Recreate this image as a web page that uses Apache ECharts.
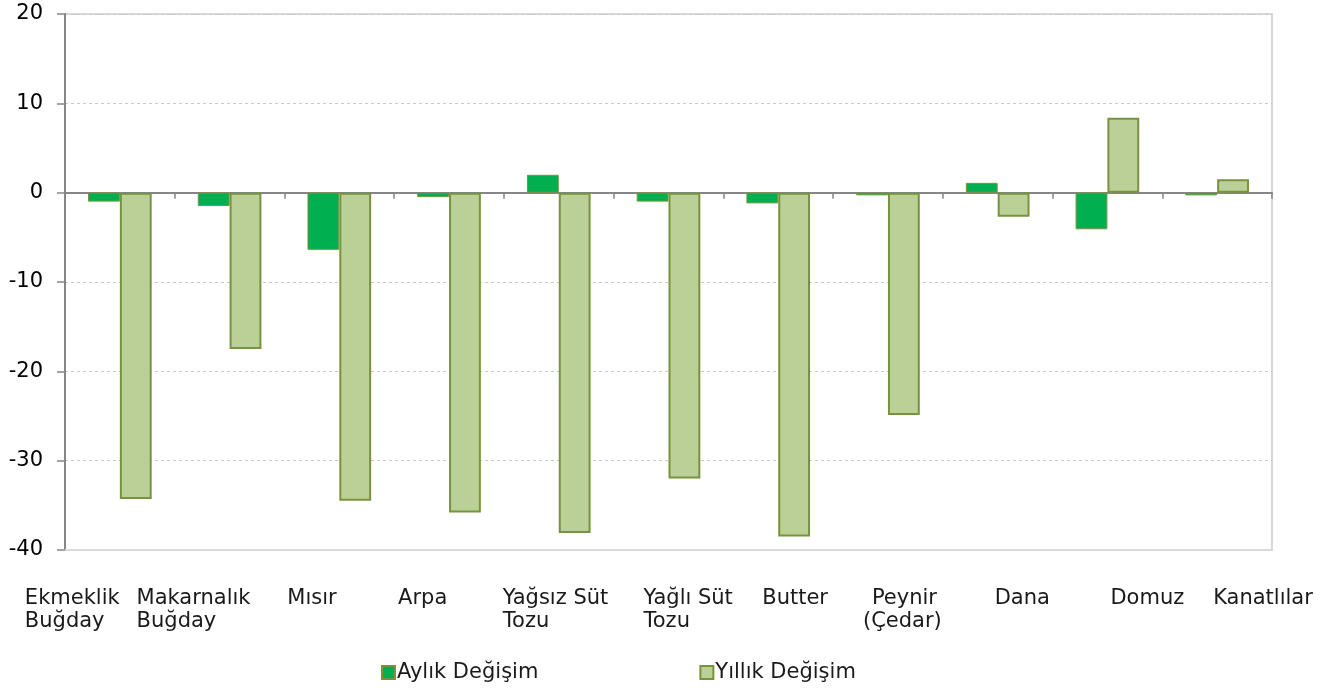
<!DOCTYPE html>
<html>
<head>
<meta charset="utf-8">
<script src="https://cdn.jsdelivr.net/npm/echarts@6/dist/echarts.min.js"></script>
<style>
  html, body { margin: 0; padding: 0; background: #ffffff; }
  #chart { width: 1338px; height: 693px; }
</style>
</head>
<body>
<div id="chart"></div>
<script>
// ---- data ----
const categories = ['Ekmeklik\nBuğday', 'Makarnalık\nBuğday', 'Mısır', 'Arpa', 'Yağsız Süt\nTozu', 'Yağlı Süt\nTozu', 'Butter', 'Peynir\n(Çedar)', 'Dana', 'Domuz', 'Kanatlılar'];
const seriesNames = ['Aylık Değişim', 'Yıllık Değişim'];
const monthly = [-1.0, -1.5, -6.4, -0.5, 2.0, -1.0, -1.2, -0.3, 1.1, -4.1, -0.3];
const yearly = [-34.3, -17.5, -34.5, -35.8, -38.1, -32.0, -38.5, -24.9, -2.7, 8.4, 1.5];
const yTicks = { min: -40, max: 20, interval: 10 };

// ---- layout (label line left edge relative to category centre, px) ----
const labelShift = [[-95], [-93], [-52], [-51], [-56], [-25], [-16], [-16, -25], [-3], [3], [-4]];
const TOKEN_W = 140;
const FONT = '"DejaVu Sans", Verdana, sans-serif';
const TEXT_COLOR = '#1a1a1a';

const rich = {};
categories.forEach((c, i) => {
  const lines = c.split('\n');
  const a = lines.map((line, j) => (labelShift[i][j] !== undefined ? labelShift[i][j] : labelShift[i][0]) + TOKEN_W / 2);
  const K = 2 * Math.max.apply(null, a.map(Math.abs));
  lines.forEach((line, j) => {
    const pl = a[j] + K / 2;
    const pr = K - pl;
    rich['c' + i + '_' + j] = {
      width: TOKEN_W,
      align: 'left',
      padding: [0, pr, 0, pl],
      fontSize: 21,
      fontFamily: FONT,
      color: TEXT_COLOR,
      lineHeight: 23
    };
  });
});

const chart = echarts.init(document.getElementById('chart'));
chart.setOption({
  backgroundColor: '#ffffff',
  animation: false,
  grid: {
    left: 65, right: 66, top: 14, bottom: 143,
    show: true, borderColor: '#d9d9d9', borderWidth: 2,
    outerBoundsMode: 'none'
  },
  legend: {
    data: seriesNames,
    left: 376, top: 657,
    itemWidth: 13, itemHeight: 13, itemGap: 161,
    icon: 'rect',
    textStyle: { fontSize: 21, fontFamily: FONT, color: TEXT_COLOR, padding: [0, 0, 0, -3] }
  },
  xAxis: [
    {
      type: 'category',
      data: categories,
      position: 'bottom',
      axisLine: { onZero: false, lineStyle: { color: '#d9d9d9', width: 2 } },
      axisTick: { show: false },
      splitLine: { show: false },
      axisLabel: {
        interval: 0,
        margin: 37,
        align: 'center',
        formatter: function (value, idx) {
          return value.split('\n').map((line, j) => '{c' + idx + '_' + j + '|' + line + '}').join('\n');
        },
        rich: rich
      }
    },
    {
      type: 'category',
      data: categories,
      position: 'top',
      axisLine: { onZero: true, lineStyle: { color: '#868686', width: 2 } },
      axisTick: { show: true, inside: true, length: 6, lineStyle: { color: '#868686', width: 1.5 } },
      axisLabel: { show: false },
      splitLine: { show: false }
    }
  ],
  yAxis: {
    type: 'value',
    min: yTicks.min, max: yTicks.max, interval: yTicks.interval,
    axisLine: { show: true, lineStyle: { color: '#868686', width: 2 } },
    axisTick: { show: true, length: 8, lineStyle: { color: '#868686', width: 1.5 } },
    axisLabel: { margin: 22, fontSize: 21, fontFamily: FONT, color: '#000000' },
    splitLine: { show: true, lineStyle: { color: '#c8c8c8', type: [3, 3], width: 1 } }
  },
  series: [
    {
      name: seriesNames[0],
      type: 'bar',
      xAxisIndex: 0,
      data: monthly,
      barGap: '0%',
      barCategoryGap: '42%',
      itemStyle: { color: '#00B050', borderColor: '#77933C', borderWidth: 1 }
    },
    {
      name: seriesNames[1],
      type: 'bar',
      xAxisIndex: 0,
      data: yearly,
      barGap: '0%',
      barCategoryGap: '42%',
      itemStyle: { color: '#BBD097', borderColor: '#77933C', borderWidth: 2 }
    }
  ]
});
</script>
</body>
</html>
